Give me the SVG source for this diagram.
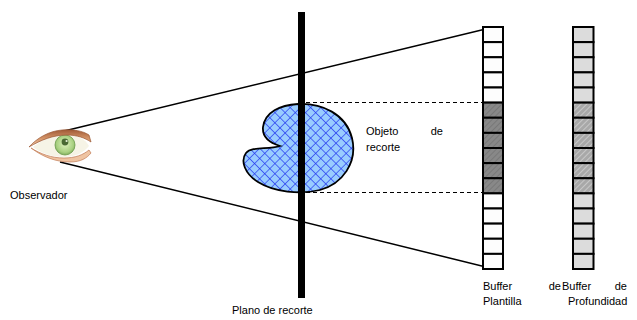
<svg xmlns="http://www.w3.org/2000/svg" width="637" height="320" viewBox="0 0 637 320">
  <style>
    text { font-family: "Liberation Sans", Arial, sans-serif; font-size: 11px; fill: #000; }
    .ray { stroke: #000; stroke-width: 1.5; fill: none; }
    .dash { stroke: #000; stroke-width: 1; stroke-dasharray: 4 3; fill: none; }
    .cell { stroke: #000; stroke-width: 2; }
    .st-empty { fill: #fdfdfd; }
    .st-mark { fill: url(#stencilHatch); }
    .dp-empty { fill: #dcdcdc; }
    .dp-mark { fill: url(#depthHatch); }
  </style>
  <defs>
    <pattern id="crossHatch" width="7.2" height="7.2" patternUnits="userSpaceOnUse" patternTransform="rotate(45)">
      <rect width="7.2" height="7.2" fill="#99ccff"/>
      <path d="M0 0H7.2M0 0V7.2" stroke="#2236ee" stroke-width="1.3"/>
    </pattern>
    <pattern id="stencilHatch" width="4" height="4" patternUnits="userSpaceOnUse" patternTransform="rotate(45)">
      <rect width="4" height="4" fill="#888"/>
      <path d="M0 0V4" stroke="#727272" stroke-width="1.5"/>
    </pattern>
    <pattern id="depthHatch" width="4" height="4" patternUnits="userSpaceOnUse" patternTransform="rotate(45)">
      <rect width="4" height="4" fill="#a8a8a8"/>
      <path d="M0 0V4" stroke="#d2d2d2" stroke-width="1.5"/>
    </pattern>
    <linearGradient id="lidGrad" x1="0" y1="0" x2="0" y2="1">
      <stop offset="0" stop-color="#a05a36"/>
      <stop offset="0.5" stop-color="#d49468"/>
      <stop offset="1" stop-color="#f2cfae"/>
    </linearGradient>
    <radialGradient id="irisGrad" cx="0.5" cy="0.45" r="0.6">
      <stop offset="0" stop-color="#e0f4c0"/>
      <stop offset="0.7" stop-color="#a8d080"/>
      <stop offset="1" stop-color="#6f9e50"/>
    </radialGradient>
  </defs>

  <!-- viewing rays and projection guides -->
  <g id="connectors">
    <line class="ray" x1="60" y1="132" x2="494" y2="27"/>
    <line class="ray" x1="60" y1="162" x2="494" y2="269"/>
    <line class="dash" x1="306" y1="102.5" x2="483" y2="102.5"/>
    <line class="dash" x1="306" y1="192.5" x2="483" y2="192.5"/>
  </g>

  <!-- observer -->
  <g id="observador">
    <!-- eyeball -->
    <path d="M33,147 C43,139 55,135 67,135 C78,135 85,139 89,146 C83,153 75,157 64,157 C51,157 41,153 33,147 Z" fill="#f6f4e6"/>
    <circle cx="65" cy="145" r="10" fill="url(#irisGrad)" stroke="#6a9a48" stroke-width="0.8"/>
    <circle cx="65" cy="142" r="3.4" fill="#4a6a34"/>
    <circle cx="66.6" cy="141" r="1.1" fill="#e8f4d8"/>
    <!-- upper lid -->
    <path d="M29,147 C37,138 49,131 62,130 C73,129 83,131 89,135 L91,142 C85,138 77,135 67,135 C53,135 41,140 29,147 Z" fill="url(#lidGrad)" stroke="#9a5632" stroke-width="0.7"/>
    <!-- lower lid -->
    <path d="M31,148 C43,157 56,162 70,162 C81,162 87,158 91,153 L89,150 C83,155 75,158 64,158 C51,158 41,154 31,148 Z" fill="#efc4a2" stroke="#c07a54" stroke-width="0.7"/>
    <text x="10" y="199">Observador</text>
  </g>

  <!-- clipping object -->
  <g id="objeto">
    <path d="M298,104 C322,103 346,114 352,138 C358,163 342,184 320,190 C300,195 274,192 258,182 C245,174 240,161 246,153 C252,146 268,150 280,146 C270,143 262,137 263,127 C265,112 280,105 298,104 Z" fill="url(#crossHatch)" stroke="#000" stroke-width="1.8"/>
    <text x="366" y="135">Objeto</text>
    <text x="443" y="135" text-anchor="end">de</text>
    <text x="366" y="151">recorte</text>
  </g>

  <!-- clipping plane -->
  <g id="plano">
    <rect x="298" y="12" width="7" height="286" fill="#000"/>
    <text x="232" y="314">Plano de recorte</text>
  </g>

  <!-- stencil buffer -->
  <g id="buffer-plantilla">
    <rect class="cell st-empty" x="483" y="27" width="20" height="15.125"/>
    <rect class="cell st-empty" x="483" y="42.125" width="20" height="15.125"/>
    <rect class="cell st-empty" x="483" y="57.25" width="20" height="15.125"/>
    <rect class="cell st-empty" x="483" y="72.375" width="20" height="15.125"/>
    <rect class="cell st-empty" x="483" y="87.5" width="20" height="15.125"/>
    <rect class="cell st-mark" x="483" y="102.625" width="20" height="15.125"/>
    <rect class="cell st-mark" x="483" y="117.75" width="20" height="15.125"/>
    <rect class="cell st-mark" x="483" y="132.875" width="20" height="15.125"/>
    <rect class="cell st-mark" x="483" y="148" width="20" height="15.125"/>
    <rect class="cell st-mark" x="483" y="163.125" width="20" height="15.125"/>
    <rect class="cell st-mark" x="483" y="178.25" width="20" height="15.125"/>
    <rect class="cell st-empty" x="483" y="193.375" width="20" height="15.125"/>
    <rect class="cell st-empty" x="483" y="208.5" width="20" height="15.125"/>
    <rect class="cell st-empty" x="483" y="223.625" width="20" height="15.125"/>
    <rect class="cell st-empty" x="483" y="238.75" width="20" height="15.125"/>
    <rect class="cell st-empty" x="483" y="253.875" width="20" height="15.125"/>
    <text x="483" y="290">Buffer</text>
    <text x="561" y="290" text-anchor="end">de</text>
    <text x="483" y="305">Plantilla</text>
  </g>

  <!-- depth buffer -->
  <g id="buffer-profundidad">
    <rect class="cell dp-empty" x="573" y="27" width="20.5" height="15.125"/>
    <rect class="cell dp-empty" x="573" y="42.125" width="20.5" height="15.125"/>
    <rect class="cell dp-empty" x="573" y="57.25" width="20.5" height="15.125"/>
    <rect class="cell dp-empty" x="573" y="72.375" width="20.5" height="15.125"/>
    <rect class="cell dp-empty" x="573" y="87.5" width="20.5" height="15.125"/>
    <rect class="cell dp-mark" x="573" y="102.625" width="20.5" height="15.125"/>
    <rect class="cell dp-mark" x="573" y="117.75" width="20.5" height="15.125"/>
    <rect class="cell dp-mark" x="573" y="132.875" width="20.5" height="15.125"/>
    <rect class="cell dp-mark" x="573" y="148" width="20.5" height="15.125"/>
    <rect class="cell dp-mark" x="573" y="163.125" width="20.5" height="15.125"/>
    <rect class="cell dp-mark" x="573" y="178.25" width="20.5" height="15.125"/>
    <rect class="cell dp-empty" x="573" y="193.375" width="20.5" height="15.125"/>
    <rect class="cell dp-empty" x="573" y="208.5" width="20.5" height="15.125"/>
    <rect class="cell dp-empty" x="573" y="223.625" width="20.5" height="15.125"/>
    <rect class="cell dp-empty" x="573" y="238.75" width="20.5" height="15.125"/>
    <rect class="cell dp-empty" x="573" y="253.875" width="20.5" height="15.125"/>
    <text x="562" y="290">Buffer</text>
    <text x="627" y="290" text-anchor="end">de</text>
    <text x="568" y="305">Profundidad</text>
  </g>
</svg>
